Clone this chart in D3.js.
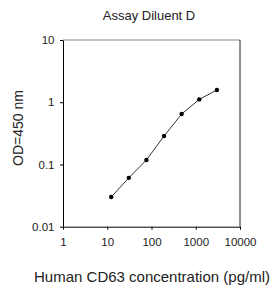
<!DOCTYPE html>
<html><head><meta charset="utf-8">
<script src="https://cdn.jsdelivr.net/npm/d3@7"></script>
<style>body{margin:0;background:#fff;}svg{display:block;font-family:"Liberation Sans",Arial,sans-serif;}</style>
</head><body>
<script>
const concentrations = [12.3, 30.7, 76.8, 192, 480, 1200, 3000];
const odValues = [0.030, 0.061, 0.118, 0.286, 0.646, 1.11, 1.57];
const xTicks = [1, 10, 100, 1000, 10000];
const yTicks = [0.01, 0.1, 1, 10];
const title = "Assay Diluent D";
const xLabel = "Human CD63 concentration (pg/ml)";
const yLabel = "OD=450 nm";

const W = 273, H = 286;
const m = {l: 63, r: 240, t: 40, b: 226.7};
const svg = d3.select("body").append("svg").attr("width", W).attr("height", H);
const x = d3.scaleLog().domain([1, 10000]).range([m.l, m.r]);
const y = d3.scaleLog().domain([0.01, 10]).range([m.b, m.t]);

// frame top/right
svg.append("line").attr("x1", m.l).attr("x2", m.r).attr("y1", m.t).attr("y2", m.t).attr("stroke", "#888").attr("stroke-width", 1);
svg.append("line").attr("x1", m.r).attr("x2", m.r).attr("y1", m.t).attr("y2", m.b).attr("stroke", "#222").attr("stroke-width", 1);

const xAxis = svg.append("g").attr("transform", `translate(0,${m.b})`)
  .call(d3.axisBottom(x).tickValues(xTicks).tickFormat(d3.format("d")).tickSize(3).tickSizeOuter(0));
const yAxis = svg.append("g").attr("transform", `translate(${m.l},0)`)
  .call(d3.axisLeft(y).tickValues(yTicks).tickFormat(d => String(d)).tickSize(3).tickSizeOuter(0));
[xAxis, yAxis].forEach(g => {
  g.select(".domain").attr("stroke", "#000");
  g.selectAll(".tick line").attr("stroke", "#000");
  g.selectAll(".tick text").attr("fill", "#222").style("font-size", "11.5px").style("font-family", "Liberation Sans, Arial, sans-serif");
});
xAxis.selectAll(".tick text").attr("dy", "1.2em");
yAxis.selectAll(".tick text").attr("x", -8.5);

const line = d3.line().x((d, i) => x(concentrations[i])).y(d => y(d));
svg.append("path").datum(odValues).attr("d", line).attr("fill", "none").attr("stroke", "#333").attr("stroke-width", 1);
svg.selectAll("circle.pt").data(odValues).enter().append("circle")
  .attr("cx", (d, i) => x(concentrations[i])).attr("cy", d => y(d)).attr("r", 2.2).attr("fill", "#000");

svg.append("text").attr("x", 149).attr("y", 19.5).attr("text-anchor", "middle").attr("fill", "#222").style("font-size", "13px").text(title);
svg.append("text").attr("x", 152).attr("y", 281.5).attr("text-anchor", "middle").attr("fill", "#222").style("font-size", "15px").text(xLabel);
svg.append("text").attr("transform", "translate(23,128) rotate(-90)").attr("text-anchor", "middle").attr("fill", "#222").style("font-size", "14px").text(yLabel);
</script>
</body></html>
